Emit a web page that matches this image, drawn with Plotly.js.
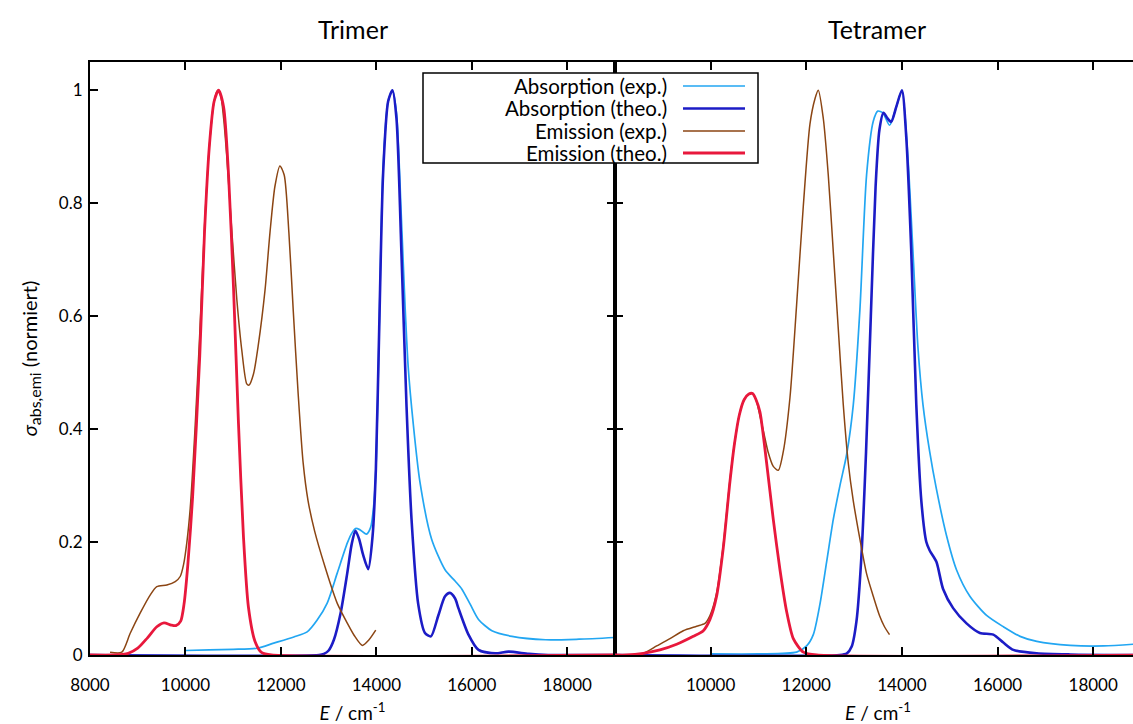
<!DOCTYPE html>
<html>
<head>
<meta charset="utf-8">
<script src="https://cdn.plot.ly/plotly-3.0.1.min.js"></script>
<style>
html,body{margin:0;padding:0;background:#fff;overflow:hidden;}
#chart{width:1145px;height:724px;}
</style>
</head>
<body>
<div id="chart"></div>
<script>
// ---------- Data ----------
const panelTitles = ["Trimer", "Tetramer"];
const seriesNames = ["Absorption (exp.)", "Absorption (theo.)", "Emission (exp.)", "Emission (theo.)"];
const seriesColors = ["#22a6f2", "#1c1cc6", "#8b4513", "#e8183c"];
const seriesWidths = [1.7, 2.6, 1.5, 2.8];
const xTicksLeft = [8000, 10000, 12000, 14000, 16000, 18000];
const xTickTextLeft = ["8000", "10000", "12000", "14000", "16000", "18000"];
const xTicksRight = [10000, 12000, 14000, 16000, 18000];
const xTickTextRight = ["10000", "12000", "14000", "16000", "18000"];
const yTicks = [0, 0.2, 0.4, 0.6, 0.8, 1];
const yTickText = ["0", "0.2", "0.4", "0.6", "0.8", "1"];

// Trimer
const triAbsExpE = [10000,10500,11000,11500,11850,12270,12550,12760,12970,13180,13390,13480,13565,13650,13790,13880,13950,14000,14060,14140,14246,14337,14421,14526,14600,14667,14772,14912,15158,15439,15649,15789,15965,16140,16421,16842,17544,18246,19000];
const triAbsExpV = [0.008,0.009,0.010,0.012,0.021,0.032,0.041,0.062,0.092,0.145,0.198,0.215,0.224,0.222,0.214,0.226,0.27,0.35,0.58,0.86,0.98,1.0,0.96,0.77,0.62,0.51,0.41,0.307,0.205,0.151,0.131,0.117,0.09,0.063,0.043,0.033,0.027,0.028,0.031];

const triAbsTheoE = [8000,12800,12900,13000,13110,13250,13390,13480,13560,13640,13720,13830,13920,13990,14060,14140,14246,14337,14421,14526,14632,14737,14877,15018,15144,15298,15439,15540,15650,15719,15930,16140,16491,16772,17193,17600,19000];
const triAbsTheoV = [0,0,0.002,0.008,0.027,0.074,0.145,0.195,0.22,0.205,0.178,0.152,0.21,0.33,0.58,0.85,0.98,1.0,0.95,0.71,0.44,0.24,0.09,0.039,0.033,0.07,0.104,0.11,0.1,0.083,0.036,0.009,0.003,0.006,0.002,0,0];

const triEmiExpE = [8420,8666,8840,9050,9260,9400,9610,9786,9890,9960,10030,10100,10200,10300,10400,10500,10600,10680,10740,10800,10868,10972,11076,11180,11285,11333,11424,11528,11667,11771,11875,11979,12069,12167,12257,12361,12465,12569,12708,12917,13125,13183,13393,13533,13707,13846,13987];
const triEmiExpV = [0.005,0.005,0.038,0.074,0.106,0.121,0.124,0.13,0.139,0.16,0.2,0.26,0.4,0.57,0.76,0.9,0.98,1.0,0.99,0.95,0.88,0.75,0.63,0.54,0.48,0.478,0.497,0.55,0.646,0.748,0.83,0.866,0.85,0.748,0.612,0.463,0.341,0.273,0.219,0.158,0.104,0.091,0.056,0.035,0.017,0.027,0.044];

const triEmiTheoE = [8000,8500,8800,9000,9200,9400,9550,9700,9800,9900,9970,10050,10150,10300,10400,10500,10600,10694,10800,10903,11007,11111,11215,11319,11458,11600,11800,19000];
const triEmiTheoV = [0,0,0.003,0.012,0.03,0.05,0.057,0.053,0.052,0.06,0.09,0.16,0.28,0.53,0.75,0.9,0.98,1.0,0.97,0.85,0.65,0.41,0.21,0.085,0.024,0.004,0,0];

// Tetramer
const tetAbsExpE = [10000,11000,11798,12007,12147,12286,12426,12565,12704,12844,12983,13122,13261,13401,13496,13601,13741,13881,14000,14126,14231,14336,14441,14581,14721,14931,15141,15421,15771,16121,16471,16821,17521,18221,19000];
const tetAbsExpV = [0.002,0.002,0.005,0.016,0.036,0.09,0.165,0.24,0.30,0.355,0.443,0.612,0.85,0.945,0.963,0.96,0.938,0.97,1.0,0.88,0.714,0.544,0.443,0.36,0.294,0.212,0.151,0.104,0.07,0.05,0.033,0.024,0.017,0.016,0.02];

const tetAbsTheoE = [8000,12700,12850,12950,13050,13150,13250,13350,13450,13530,13615,13700,13776,13880,14000,14091,14196,14301,14406,14511,14581,14721,14861,15071,15351,15631,15911,16121,16331,16821,17521,19000];
const tetAbsTheoV = [0,0,0.003,0.015,0.06,0.17,0.36,0.6,0.83,0.93,0.96,0.95,0.944,0.97,1.0,0.917,0.714,0.443,0.273,0.2,0.185,0.165,0.117,0.083,0.056,0.039,0.036,0.022,0.009,0.003,0.001,0];

const tetEmiExpE = [8313,8592,8871,9150,9428,9707,9882,9986,10125,10265,10404,10500,10600,10700,10800,10878,10950,11040,11120,11200,11310,11415,11519,11659,11798,11938,12077,12182,12251,12356,12460,12565,12669,12774,12878,12983,13122,13261,13401,13531,13636,13741];
const tetEmiExpV = [0,0.003,0.016,0.029,0.043,0.051,0.056,0.07,0.11,0.195,0.31,0.375,0.425,0.452,0.462,0.463,0.452,0.42,0.39,0.36,0.334,0.327,0.36,0.456,0.62,0.795,0.94,0.985,1.0,0.95,0.85,0.714,0.578,0.443,0.34,0.273,0.205,0.144,0.104,0.07,0.05,0.036];

const tetEmiTheoE = [8000,8244,8592,8940,9289,9638,9847,9986,10125,10265,10404,10500,10600,10700,10800,10878,10950,11032,11171,11310,11450,11589,11729,11938,12217,19000];
const tetEmiTheoV = [0,0,0.003,0.009,0.019,0.033,0.043,0.063,0.104,0.19,0.307,0.375,0.425,0.452,0.462,0.463,0.452,0.43,0.34,0.24,0.151,0.077,0.029,0.005,0,0];

// ---------- Build traces ----------
const panels = [
  {xa: 'x', ya: 'y', series: [[triAbsExpE, triAbsExpV],[triAbsTheoE, triAbsTheoV],[triEmiExpE, triEmiExpV],[triEmiTheoE, triEmiTheoV]]},
  {xa: 'x2', ya: 'y2', series: [[tetAbsExpE, tetAbsExpV],[tetAbsTheoE, tetAbsTheoV],[tetEmiExpE, tetEmiExpV],[tetEmiTheoE, tetEmiTheoV]]}
];
const traces = [];
panels.forEach(p => {
  p.series.forEach((s, i) => {
    traces.push({
      x: s[0], y: s[1], type: 'scatter', mode: 'lines',
      name: seriesNames[i], xaxis: p.xa, yaxis: p.ya, showlegend: false,
      line: {color: seriesColors[i], width: seriesWidths[i], shape: 'spline', smoothing: 0.7}
    });
  });
});

// ---------- Layout ----------
const W = 1145, H = 724, ML = 90, MR = 4, MT = 62, MB = 69;
const plotW = W - ML - MR, plotH = H - MT - MB;
const split = 525 / plotW;
const FONT = 'Lato, "DejaVu Sans", sans-serif';

const axisCommon = {
  showline: true, linecolor: '#000', linewidth: 2, mirror: 'ticks',
  ticks: 'inside', ticklen: 8, tickwidth: 2, tickcolor: '#000',
  showgrid: false, zeroline: false, tickfont: {family: FONT, size: 17, color: '#000'}
};
const xTitle = {text: '<i>E</i> / cm<sup>-1</sup>', font: {family: FONT, size: 19, color: '#000'}, standoff: 22};

const px2x = px => (px - ML) / plotW;
const px2y = py => (H - MB - py) / plotH;

const shapes = [];
const annotations = [];
// panel titles
panelTitles.forEach((t, i) => {
  annotations.push({text: t, xref: 'paper', yref: 'paper', x: i === 0 ? split / 2 : (split + 1) / 2 - 0.001,
    y: 1, xanchor: 'center', yanchor: 'middle', yshift: 33, showarrow: false, font: {family: FONT, size: 25, color: '#000'}});
});
// custom legend (gnuplot style: text left, sample right)
shapes.push({type: 'rect', xref: 'paper', yref: 'paper', x0: px2x(423), x1: px2x(758), y0: px2y(163), y1: px2y(73),
  fillcolor: '#fff', line: {color: '#000', width: 1.5}, layer: 'above'});
const rowY = [86, 108.5, 131, 153];
seriesNames.forEach((n, i) => {
  annotations.push({text: n, xref: 'paper', yref: 'paper', x: px2x(669), y: px2y(rowY[i]), xanchor: 'right', yanchor: 'middle',
    showarrow: false, font: {family: FONT, size: 20.5, color: '#000'}});
  shapes.push({type: 'line', xref: 'paper', yref: 'paper', x0: px2x(683), x1: px2x(745), y0: px2y(rowY[i]), y1: px2y(rowY[i]),
    line: {color: seriesColors[i], width: seriesWidths[i]}, layer: 'above'});
});

const layout = {
  width: W, height: H, margin: {l: ML, r: MR, t: MT, b: MB, pad: 0},
  paper_bgcolor: '#fff', plot_bgcolor: '#fff', showlegend: false,
  font: {family: FONT, color: '#000'},
  xaxis: Object.assign({}, axisCommon, {domain: [0, split], range: [8000, 19000], tickvals: xTicksLeft, ticktext: xTickTextLeft,
    ticklabelstandoff: 14, anchor: 'y', automargin: false, title: xTitle}),
  xaxis2: Object.assign({}, axisCommon, {domain: [split, 1], range: [8000, 19000], tickvals: xTicksRight, ticktext: xTickTextRight,
    ticklabelstandoff: 14, anchor: 'y2', automargin: false, title: xTitle}),
  yaxis: Object.assign({}, axisCommon, {domain: [0, 1], range: [0, 1.05], tickvals: yTicks, ticktext: yTickText, anchor: 'x',
    ticklabelstandoff: 2,
    title: {text: '<i>σ</i><sub><span style="font-size:16px">abs,emi</span></sub> (normiert)', font: {family: FONT, size: 20, color: '#000'}, standoff: 16}}),
  yaxis2: Object.assign({}, axisCommon, {domain: [0, 1], range: [0, 1.05], tickvals: yTicks, anchor: 'x2', showticklabels: false}),
  shapes: shapes, annotations: annotations
};

Plotly.newPlot('chart', traces, layout, {staticPlot: true, displayModeBar: false});
</script>
</body>
</html>
